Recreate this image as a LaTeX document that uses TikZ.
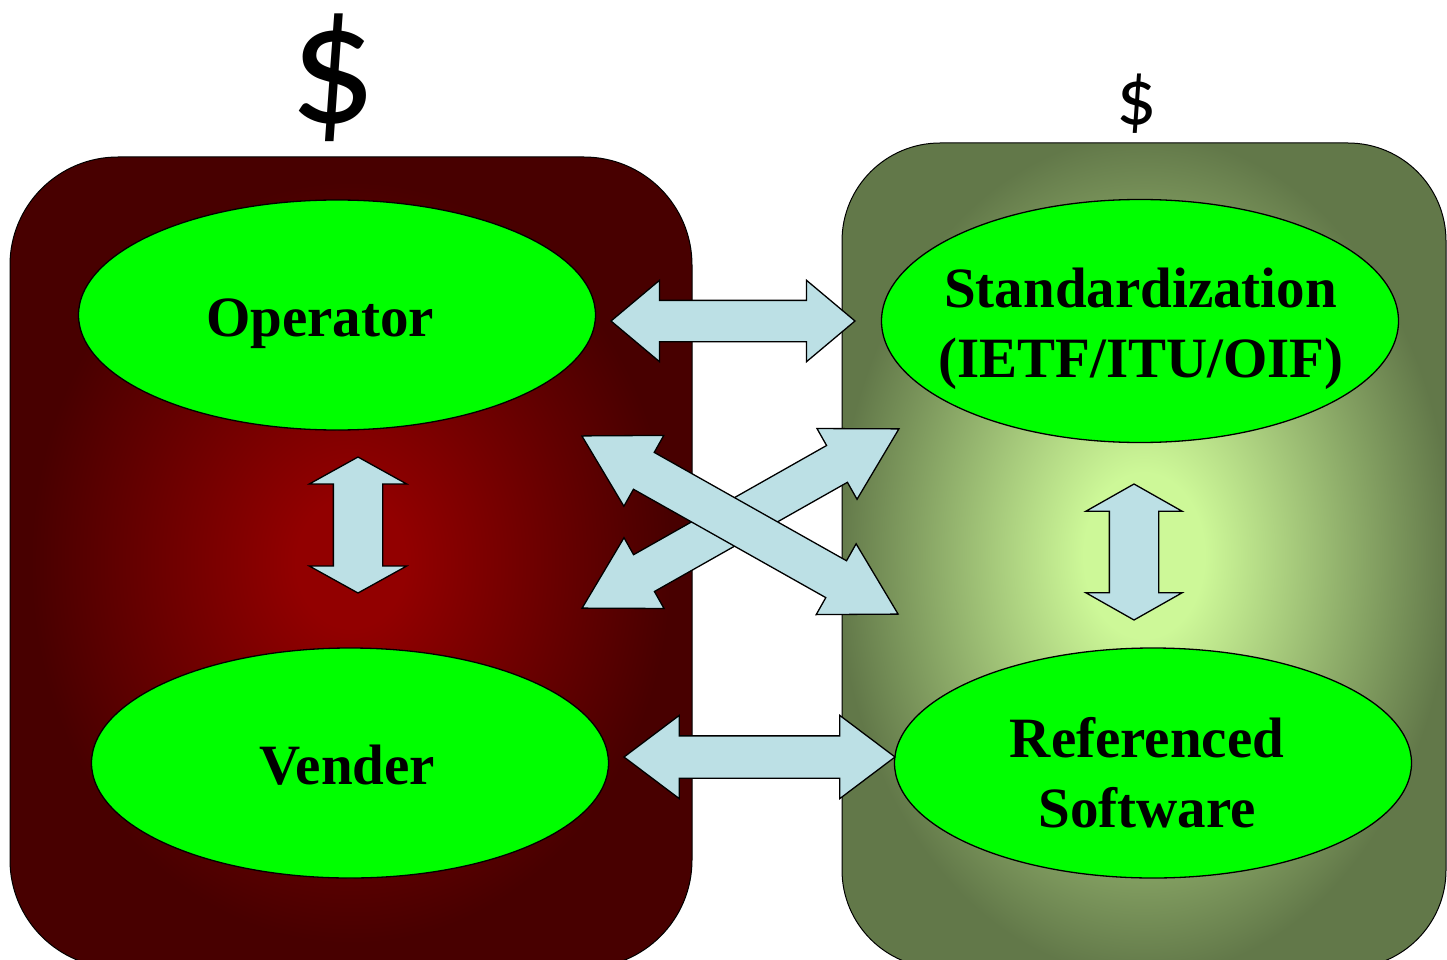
\documentclass[tikz,border=0pt]{standalone}
\usepackage{fontspec}
\setmainfont{Liberation Serif}
\newfontfamily\dollarfont{Carlito}
\usetikzlibrary{shapes.geometric,shapes.arrows}

\definecolor{maroonrim}{HTML}{480000}
\definecolor{marooncore}{HTML}{920000}
\definecolor{olivrim}{HTML}{627849}
\definecolor{olivcore}{HTML}{CDF898}
\definecolor{nodegreen}{HTML}{00FF00}
\definecolor{arrowblue}{HTML}{BCE0E5}

\pgfdeclareradialshading{redglow}{\pgfpoint{0bp}{0bp}}{color(0bp)=(marooncore); color(4bp)=(marooncore); color(23.5bp)=(maroonrim); color(50bp)=(maroonrim)}
\pgfdeclareradialshading{greenglow}{\pgfpoint{0bp}{0bp}}{color(0bp)=(olivcore); color(5bp)=(olivcore); color(25.5bp)=(olivrim); color(50bp)=(olivrim)}

\begin{document}
\begin{tikzpicture}[x=1pt,y=-1pt,
    group/.style={draw=black, line width=1pt, shade},
    actor/.style={ellipse, draw=black, line width=1.3pt, fill=nodegreen,
      inner sep=0pt, minimum width=517pt, minimum height=230pt},
    caption/.style={anchor=base, inner sep=0pt, font=\fontsize{57}{68}\selectfont\bfseries},
    cost/.style={anchor=base, inner sep=0pt},
    link/.style={double arrow, draw=black, line width=1.3pt, fill=arrowblue,
      inner xsep=0pt, inner ysep=20pt, outer sep=0pt, double arrow head extend=20pt},
  ]
  \useasboundingbox (0,0) rectangle (1447,960);

  % the two sides
  \draw[group, shading=redglow, rounded corners=108pt] (10,157) rectangle (692,968);
  \draw[group, shading=greenglow, rounded corners=98pt] (842,143) rectangle (1446,968);

  \node[cost, font=\dollarfont\fontsize{172}{176}\selectfont] (bigcost) at (333,123) {\$};
  \node[cost, font=\dollarfont\fontsize{80}{84}\selectfont] (smallcost) at (1137,125) {\$};

  \node[actor] (op) at (337,315) {};
  \node[actor] (ven) at (350,763) {};
  \node[actor, minimum height=243pt] (std) at (1140,321) {};
  \node[actor] (ref) at (1153,763) {};

  \node[caption] (op-text) at (320,336) {Operator};
  \node[caption] (ven-text) at (347.5,784) {Vender};
  \node[caption] (std-text) at (1140.5,307) {Standardization};
  \node[caption] (std-orgs) at (1141,377) {(IETF/ITU/OIF)};
  \node[caption] (ref-text) at (1147,757) {Referenced};
  \node[caption] (ref-soft) at (1147,827) {Software};

  % block arrows
  \node[link, minimum height=244pt, double arrow tip angle=80] (op-std) at (733,321) {};
  \node[link, minimum height=271pt, inner ysep=20.5pt, double arrow head extend=20.5pt, double arrow tip angle=74] (ven-ref) at (759.5,757) {};
  \node[link, rotate=90, minimum height=136pt, inner ysep=24pt, double arrow head extend=24pt, double arrow tip angle=122] (op-ven) at (358,525) {};
  \node[link, rotate=90, minimum height=136pt, inner ysep=24pt, double arrow head extend=23.5pt, double arrow tip angle=121] (std-ref) at (1134,552) {};
  \node[link, rotate=29.5, minimum height=364pt, inner ysep=20.5pt, double arrow head extend=19.5pt, double arrow tip angle=59.5] (ven-std) at (740.5,518.5) {};
  \node[link, rotate=-29.4, minimum height=363pt, inner ysep=20.5pt, double arrow head extend=19.5pt, double arrow tip angle=59.5] (op-ref) at (740,525) {};
\end{tikzpicture}
\end{document}
